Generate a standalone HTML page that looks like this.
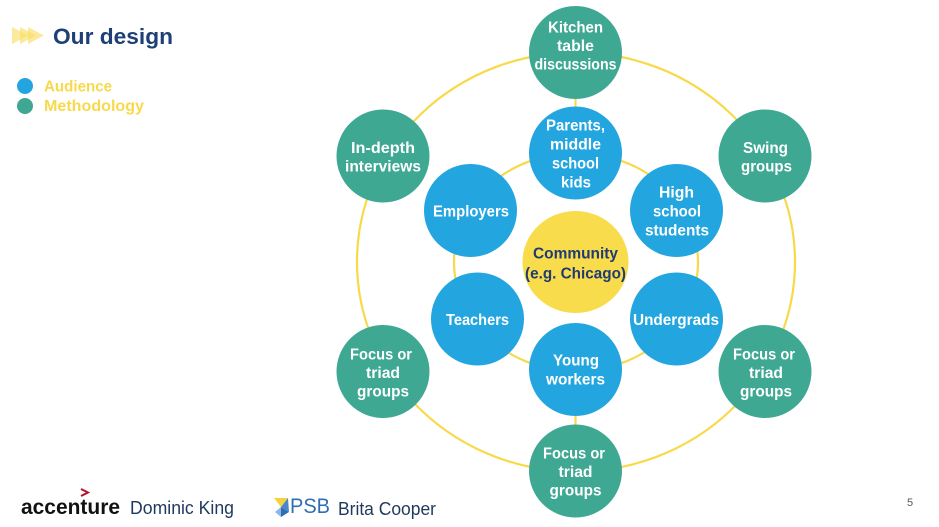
<!DOCTYPE html>
<html><head><meta charset="utf-8"><style>
html,body{margin:0;padding:0;background:#fff;}
svg{display:block;}
.n{font-family:"Liberation Sans",sans-serif;font-weight:bold;font-size:16px;fill:#fff;text-anchor:middle;}
</style></head><body>
<svg width="939" height="527" viewBox="0 0 939 527" xmlns="http://www.w3.org/2000/svg">
<rect width="939" height="527" fill="#fff"/>
<!-- title icon -->
<g fill="#F9DC5C" fill-opacity="0.6">
<polygon points="12,27 28,35.5 12,44"/>
<polygon points="20,27 36,35.5 20,44"/>
<polygon points="28,27 44,35.5 28,44"/>
</g>
<text x="53" y="44" font-family="Liberation Sans,sans-serif" font-weight="bold" font-size="22" textLength="120" lengthAdjust="spacingAndGlyphs" fill="#1F3F77">Our design</text>
<circle cx="25" cy="86" r="8" fill="#25A5E0"/>
<circle cx="25" cy="106" r="8" fill="#3FA792"/>
<text x="44" y="91.5" font-family="Liberation Sans,sans-serif" font-weight="bold" font-size="15.5" textLength="68" lengthAdjust="spacingAndGlyphs" fill="#F9D94C">Audience</text>
<text x="44" y="111" font-family="Liberation Sans,sans-serif" font-weight="bold" font-size="15.5" textLength="100" lengthAdjust="spacingAndGlyphs" fill="#F9D94C">Methodology</text>

<!-- rings -->
<ellipse cx="576" cy="262" rx="219" ry="209.5" fill="none" stroke="#F7D94A" stroke-width="2.2"/>
<ellipse cx="576" cy="262" rx="122" ry="109" fill="none" stroke="#F7D94A" stroke-width="2.2"/>
<line x1="575.5" y1="99" x2="575.5" y2="107" stroke="#F7D94A" stroke-width="2.2"/>
<line x1="575.5" y1="416" x2="575.5" y2="425" stroke="#F7D94A" stroke-width="2.2"/>

<!-- outer green -->
<g fill="#3FA893">
<circle cx="575.5" cy="52.5" r="46.5"/>
<circle cx="383" cy="156" r="46.5"/>
<circle cx="765" cy="156" r="46.5"/>
<circle cx="383" cy="371.5" r="46.5"/>
<circle cx="765" cy="371.5" r="46.5"/>
<circle cx="575.5" cy="471" r="46.5"/>
</g>
<!-- inner blue -->
<g fill="#23A6E0">
<circle cx="575.5" cy="153" r="46.5"/>
<circle cx="676.5" cy="210.5" r="46.5"/>
<circle cx="676.5" cy="319" r="46.5"/>
<circle cx="575.5" cy="369.5" r="46.5"/>
<circle cx="477.5" cy="319" r="46.5"/>
<circle cx="470.5" cy="210.5" r="46.5"/>
</g>
<ellipse cx="575.5" cy="262" rx="53" ry="51" fill="#F9DC4C"/>

<!-- labels -->
<text class="n" x="575.5" y="32.5" textLength="55" lengthAdjust="spacingAndGlyphs">Kitchen</text>
<text class="n" x="575.5" y="51" textLength="37" lengthAdjust="spacingAndGlyphs">table</text>
<text class="n" x="575.5" y="69.5" textLength="82" lengthAdjust="spacingAndGlyphs">discussions</text>

<text class="n" x="383" y="153" textLength="64" lengthAdjust="spacingAndGlyphs">In-depth</text>
<text class="n" x="383" y="171.5" textLength="76" lengthAdjust="spacingAndGlyphs">interviews</text>

<text class="n" x="765.5" y="153" textLength="45" lengthAdjust="spacingAndGlyphs">Swing</text>
<text class="n" x="766.5" y="171.5" textLength="51" lengthAdjust="spacingAndGlyphs">groups</text>

<text class="n" x="381" y="359.5" textLength="62" lengthAdjust="spacingAndGlyphs">Focus or</text>
<text class="n" x="383" y="378" textLength="34" lengthAdjust="spacingAndGlyphs">triad</text>
<text class="n" x="383" y="396.5" textLength="52" lengthAdjust="spacingAndGlyphs">groups</text>

<text class="n" x="764" y="359.5" textLength="62" lengthAdjust="spacingAndGlyphs">Focus or</text>
<text class="n" x="766" y="378" textLength="34" lengthAdjust="spacingAndGlyphs">triad</text>
<text class="n" x="766" y="396.5" textLength="52" lengthAdjust="spacingAndGlyphs">groups</text>

<text class="n" x="574" y="458.5" textLength="62" lengthAdjust="spacingAndGlyphs">Focus or</text>
<text class="n" x="575.5" y="477" textLength="34" lengthAdjust="spacingAndGlyphs">triad</text>
<text class="n" x="575.5" y="495.5" textLength="52" lengthAdjust="spacingAndGlyphs">groups</text>

<text class="n" x="575.5" y="130.5" textLength="59" lengthAdjust="spacingAndGlyphs">Parents,</text>
<text class="n" x="575.5" y="149.5" textLength="51" lengthAdjust="spacingAndGlyphs">middle</text>
<text class="n" x="575.5" y="168.5" textLength="47" lengthAdjust="spacingAndGlyphs">school</text>
<text class="n" x="576" y="187.5" textLength="30" lengthAdjust="spacingAndGlyphs">kids</text>

<text class="n" x="676.5" y="197.5" textLength="35" lengthAdjust="spacingAndGlyphs">High</text>
<text class="n" x="677" y="216.5" textLength="48" lengthAdjust="spacingAndGlyphs">school</text>
<text class="n" x="677" y="235.5" textLength="64" lengthAdjust="spacingAndGlyphs">students</text>

<text class="n" x="471" y="216.5" textLength="76" lengthAdjust="spacingAndGlyphs">Employers</text>
<text class="n" x="477.5" y="325" textLength="63" lengthAdjust="spacingAndGlyphs">Teachers</text>
<text class="n" x="676" y="325" textLength="86" lengthAdjust="spacingAndGlyphs">Undergrads</text>

<text class="n" x="576" y="365.5" textLength="46" lengthAdjust="spacingAndGlyphs">Young</text>
<text class="n" x="575.5" y="384.5" textLength="59" lengthAdjust="spacingAndGlyphs">workers</text>

<text class="n" x="575.5" y="258.5" textLength="85" lengthAdjust="spacingAndGlyphs" style="fill:#1F3B70">Community</text>
<text class="n" x="575.5" y="278.5" textLength="101" lengthAdjust="spacingAndGlyphs" style="fill:#1F3B70">(e.g. Chicago)</text>

<!-- footer -->
<polyline points="81,489 88,492.5 81,496" fill="none" stroke="#B5122B" stroke-width="2"/>
<text x="21" y="514" font-family="Liberation Sans,sans-serif" font-weight="bold" font-size="21" textLength="99" lengthAdjust="spacingAndGlyphs" fill="#111">accenture</text>
<text x="130" y="514" font-family="Liberation Sans,sans-serif" font-size="18" textLength="104" lengthAdjust="spacingAndGlyphs" fill="#203A5E">Dominic King</text>

<polygon points="274,498 288,498 281,507" fill="#F5D33D"/>
<polygon points="281,507 275,512 281,517" fill="#8DB6E6"/>
<polygon points="281,507 289,512 281,517 " fill="#2E6DB4"/>
<polygon points="281,507 288,498 289,512" fill="#4A86CC"/>
<text x="290" y="513" font-family="Liberation Sans,sans-serif" font-size="21" textLength="40" lengthAdjust="spacingAndGlyphs" fill="#2F6EB5">PSB</text>
<text x="338" y="515" font-family="Liberation Sans,sans-serif" font-size="18" textLength="98" lengthAdjust="spacingAndGlyphs" fill="#203A5E">Brita Cooper</text>

<text x="910" y="506" font-family="Liberation Sans,sans-serif" font-size="11" fill="#595959" text-anchor="middle">5</text>
</svg>
</body></html>
